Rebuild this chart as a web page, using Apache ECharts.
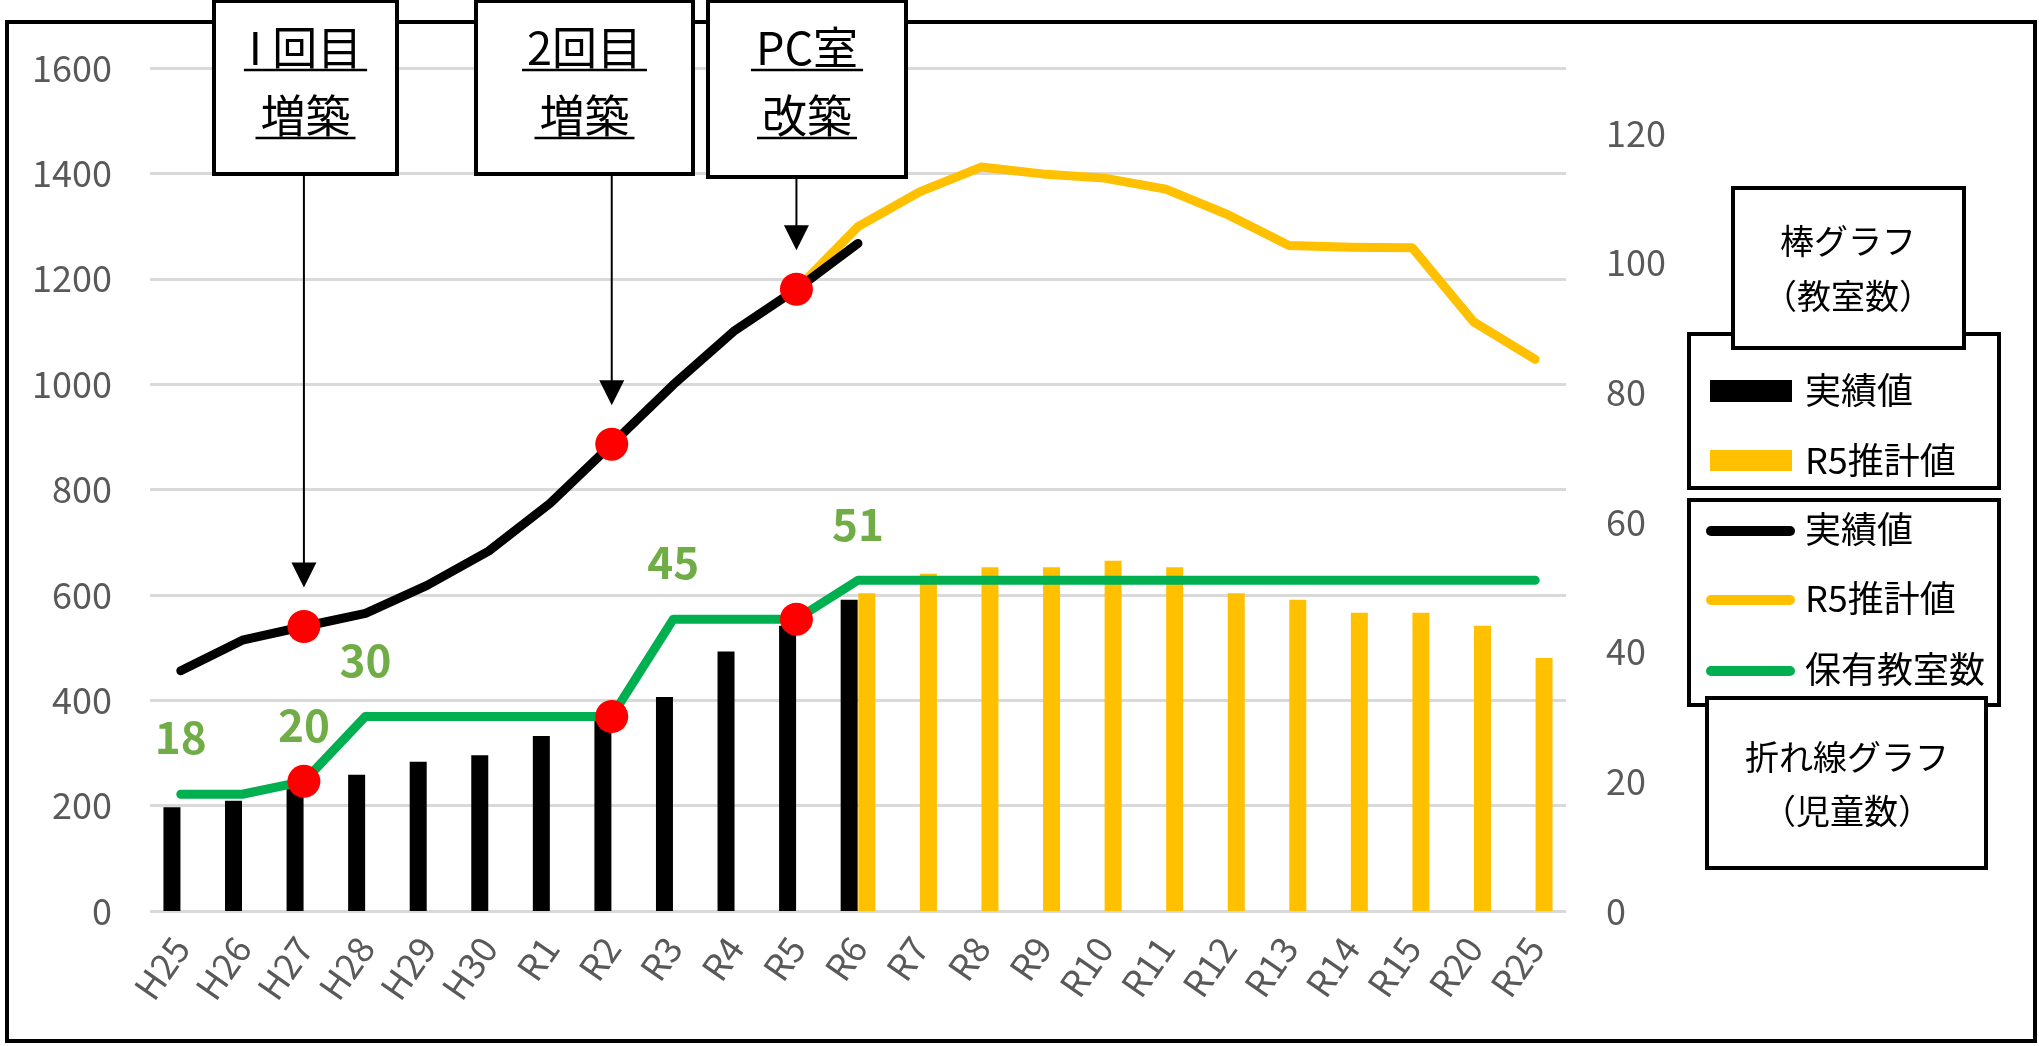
<!DOCTYPE html>
<html><head><meta charset="utf-8">
<script src="https://cdn.jsdelivr.net/npm/echarts@6/dist/echarts.min.js"></script>
<style>html,body{margin:0;padding:0;background:#fff}#c{width:2039px;height:1046px}</style>
</head><body><div id="c"></div>
<script>
// ---- data ----
const categories = ['H25','H26','H27','H28','H29','H30','R1','R2','R3','R4','R5','R6','R7','R8','R9','R10','R11','R12','R13','R14','R15','R20','R25'];
// bars: classrooms (right axis)
const barActual   = [16,17,19,21,23,24,27,30,33,40,44,48,null,null,null,null,null,null,null,null,null,null,null];
const barEstimate = [null,null,null,null,null,null,null,null,null,null,null,49,52,53,53,54,53,49,48,46,46,44,39];
// lines: pupils (left axis)
const pupilsActual   = [456,514,540,565,618,683,774,886,999,1102,1180,1267,null,null,null,null,null,null,null,null,null,null,null];
const pupilsEstimate = [null,null,null,null,null,null,null,null,null,null,1180,1299,1365,1412,1399,1391,1370,1322,1263,1260,1259,1118,1047];
// line: classrooms owned (right axis)
const classroomsOwned = [18,18,20,30,30,30,30,30,45,45,45,51,51,51,51,51,51,51,51,51,51,51,51];
const labeledCategories = ['H25','H27','H28','R3','R6'];
const milestoneCategories = ['H27','R2','R5'];
const milestoneTexts = [['I 回目','増築'],['2回目','増築'],['PC室','改築']];
const leftAxisMin = 0, leftAxisMax = 1600, leftAxisStep = 200;
const rightAxisMin = 0, rightAxisMax = 130, rightAxisStep = 20;

const FONT = '"Noto Sans CJK JP", "Noto Sans", sans-serif';
const chart = echarts.init(document.getElementById('c'), null, {renderer: 'canvas'});

const idx = c => categories.indexOf(c);
const greenData = classroomsOwned.map((v, i) =>
  labeledCategories.includes(categories[i]) ? {value: v, label: {show: true}} : v);

const option = {
  animation: false,
  backgroundColor: '#fff',
  grid: {left: 150, right: 473, top: 68, bottom: 135, containLabel: false},
  xAxis: {
    type: 'category', data: categories, boundaryGap: true,
    axisLine: {show: false}, axisTick: {show: false},
    axisLabel: {rotate: 55, margin: 30, color: '#595959', fontSize: 36, fontFamily: FONT, interval: 0}
  },
  yAxis: [
    {type: 'value', min: leftAxisMin, max: leftAxisMax, interval: leftAxisStep,
     axisLine: {show: false}, axisTick: {show: false},
     splitLine: {lineStyle: {color: '#D9D9D9', width: 3}},
     axisLabel: {color: '#595959', fontSize: 36, fontFamily: FONT, margin: 38,
       formatter: v => String(v)}},
    {type: 'value', min: rightAxisMin, max: rightAxisMax, interval: rightAxisStep,
     axisLine: {show: false}, axisTick: {show: false}, splitLine: {show: false},
     axisLabel: {color: '#595959', fontSize: 36, fontFamily: FONT, margin: 40,
       formatter: v => (v % rightAxisStep === 0 ? String(v) : '')}}
  ],
  series: [
    {name: '実績値(棒)', type: 'bar', yAxisIndex: 1, data: barActual, barWidth: 17, barGap: '4%',
     itemStyle: {color: '#000000'}, z: 2},
    {name: 'R5推計値(棒)', type: 'bar', yAxisIndex: 1, data: barEstimate, barWidth: 17, barGap: '4%',
     itemStyle: {color: '#FFC000'}, z: 2},
    {name: 'R5推計値', type: 'line', yAxisIndex: 0, data: pupilsEstimate, symbol: 'none',
     lineStyle: {color: '#FFC000', width: 9, cap: 'round', join: 'round'}, z: 3},
    {name: '実績値', type: 'line', yAxisIndex: 0, data: pupilsActual, symbol: 'none',
     lineStyle: {color: '#000000', width: 9, cap: 'round', join: 'round'}, z: 4},
    {name: '保有教室数', type: 'line', yAxisIndex: 1, data: greenData,
     symbol: 'circle', symbolSize: 1, showSymbol: true, showAllSymbol: true,
     itemStyle: {color: '#00B050'},
     lineStyle: {color: '#00B050', width: 9, cap: 'round', join: 'round'},
     label: {show: false, position: 'top', distance: 34, color: '#70AD47', fontSize: 44,
       fontWeight: 'bold', fontFamily: FONT}, z: 5},
    {name: 'milestonePupils', type: 'scatter', yAxisIndex: 0, symbolSize: 33,
     data: milestoneCategories.map(c => [c, pupilsActual[idx(c)]]),
     itemStyle: {color: '#FF0000', opacity: 1}, z: 6},
    {name: 'milestoneRooms', type: 'scatter', yAxisIndex: 1, symbolSize: 33,
     data: milestoneCategories.map(c => [c, classroomsOwned[idx(c)]]),
     itemStyle: {color: '#FF0000', opacity: 1}, z: 6}
  ]
};
chart.setOption(option);

// ---- annotations & legend (graphic) ----
const ctx = document.createElement('canvas').getContext('2d');
function textW(t, size) { ctx.font = size + 'px ' + FONT; return ctx.measureText(t).width; }

const g = [];
// outer chart border
g.push({type: 'rect', shape: {x: 7, y: 22, width: 2028, height: 1019},
  style: {fill: 'none', stroke: '#000', lineWidth: 4}, z: 50});

const boxes = [
  {x: 214, w: 183, h: 173},
  {x: 476, w: 217, h: 173},
  {x: 708, w: 198, h: 176}
];
const boxFont = 45;
milestoneCategories.forEach((c, i) => {
  const b = boxes[i];
  const cx = b.x + b.w / 2;
  g.push({type: 'rect', shape: {x: b.x, y: 1, width: b.w, height: b.h},
    style: {fill: '#fff', stroke: '#000', lineWidth: 4}, z: 60});
  const lines = milestoneTexts[i];
  const ys = [48, 116];
  const uy = [70, 138];
  lines.forEach((t, k) => {
    g.push({type: 'text', z: 61, style: {text: t, x: cx, y: ys[k], fill: '#000',
      font: 'normal ' + boxFont + 'px ' + FONT, align: 'center', verticalAlign: 'middle'}});
    const w = textW(t, boxFont) + 10;
    g.push({type: 'line', z: 61, shape: {x1: cx - w / 2, y1: uy[k], x2: cx + w / 2, y2: uy[k]},
      style: {stroke: '#000', lineWidth: 2.5}});
  });
  // arrow toward the milestone point
  const p = chart.convertToPixel({xAxisIndex: 0, yAxisIndex: 0}, [c, pupilsActual[idx(c)]]);
  const ax = p[0];
  const tip = p[1] - 39;
  g.push({type: 'line', z: 55, shape: {x1: ax, y1: 1 + b.h, x2: ax, y2: tip - 24},
    style: {stroke: '#000', lineWidth: 2}});
  g.push({type: 'polygon', z: 55, shape: {points: [[ax - 12.5, tip - 25], [ax + 12.5, tip - 25], [ax, tip]]},
    style: {fill: '#000'}});
});

// legend 1 (bars)
const lf = 36;
g.push({type: 'rect', z: 60, shape: {x: 1689, y: 334, width: 310, height: 154},
  style: {fill: '#fff', stroke: '#000', lineWidth: 4}});
g.push({type: 'rect', z: 62, shape: {x: 1733, y: 188, width: 231, height: 160},
  style: {fill: '#fff', stroke: '#000', lineWidth: 4}});
g.push({type: 'text', z: 63, style: {text: '棒グラフ', x: 1848, y: 241, fill: '#000',
  font: 'normal 34px ' + FONT, align: 'center', verticalAlign: 'middle'}});
g.push({type: 'text', z: 63, style: {text: '（教室数）', x: 1848, y: 296, fill: '#000',
  font: 'normal 34px ' + FONT, align: 'center', verticalAlign: 'middle'}});
g.push({type: 'rect', z: 61, shape: {x: 1710, y: 380, width: 82, height: 22}, style: {fill: '#000'}});
g.push({type: 'text', z: 61, style: {text: '実績値', x: 1805, y: 390, fill: '#000',
  font: 'normal ' + lf + 'px ' + FONT, align: 'left', verticalAlign: 'middle'}});
g.push({type: 'rect', z: 61, shape: {x: 1710, y: 450, width: 82, height: 21}, style: {fill: '#FFC000'}});
g.push({type: 'text', z: 61, style: {text: 'R5推計値', x: 1805, y: 460, fill: '#000',
  font: 'normal ' + lf + 'px ' + FONT, align: 'left', verticalAlign: 'middle'}});

// legend 2 (lines)
g.push({type: 'rect', z: 60, shape: {x: 1689, y: 500, width: 310, height: 205},
  style: {fill: '#fff', stroke: '#000', lineWidth: 4}});
const lineItems = [['実績値', '#000000', 531], ['R5推計値', '#FFC000', 600], ['保有教室数', '#00B050', 671]];
lineItems.forEach(([t, col, y]) => {
  g.push({type: 'line', z: 61, shape: {x1: 1711, y1: y, x2: 1790, y2: y},
    style: {stroke: col, lineWidth: 10, lineCap: 'round'}});
  g.push({type: 'text', z: 61, style: {text: t, x: 1805, y: y - 2, fill: '#000',
    font: 'normal ' + lf + 'px ' + FONT, align: 'left', verticalAlign: 'middle'}});
});
g.push({type: 'rect', z: 62, shape: {x: 1707, y: 698, width: 279, height: 170},
  style: {fill: '#fff', stroke: '#000', lineWidth: 4}});
g.push({type: 'text', z: 63, style: {text: '折れ線グラフ', x: 1847, y: 757, fill: '#000',
  font: 'normal 34px ' + FONT, align: 'center', verticalAlign: 'middle'}});
g.push({type: 'text', z: 63, style: {text: '（児童数）', x: 1847, y: 811, fill: '#000',
  font: 'normal 34px ' + FONT, align: 'center', verticalAlign: 'middle'}});

chart.setOption({graphic: {elements: g}});
</script>
</body></html>
